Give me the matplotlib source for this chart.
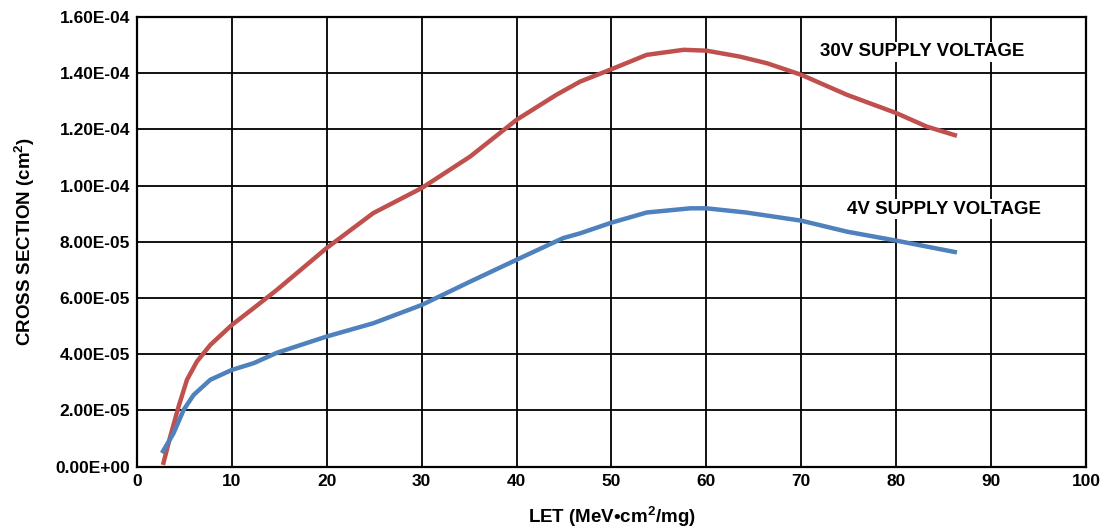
import numpy as np
import matplotlib.pyplot as plt
from matplotlib.ticker import FuncFormatter, MultipleLocator

plt.rcParams['font.family'] = ['Liberation Sans', 'DejaVu Sans']
plt.rcParams['font.weight'] = 'bold'
plt.rcParams['mathtext.fontset'] = 'custom'
plt.rcParams['mathtext.rm'] = 'Liberation Sans'
plt.rcParams['mathtext.bf'] = 'Liberation Sans:bold'

# 30V supply voltage curve (LET, cross section in 1e-5 cm2)
let_30v = [2.74, 3.51, 4.39, 5.27, 6.32, 7.73, 10.0, 12.3, 14.75, 20.0, 24.9, 30.0,
           35.1, 40.0, 44.2, 46.7, 50.0, 53.7, 57.6, 60.0, 63.5, 66.4, 70.0, 74.8,
           80.0, 83.2, 86.4]
xs_30v = [0.06, 1.07, 2.14, 3.09, 3.74, 4.33, 5.04, 5.64, 6.29, 7.78, 9.02, 9.91,
          11.03, 12.34, 13.23, 13.7, 14.14, 14.65, 14.83, 14.8, 14.59, 14.35, 13.94,
          13.23, 12.58, 12.1, 11.77]

# 4V supply voltage curve
let_4v = [2.63, 3.86, 4.92, 5.97, 7.73, 10.0, 12.3, 14.75, 20.0, 24.9, 30.0, 35.1,
          40.0, 44.9, 46.7, 50.0, 53.7, 58.3, 60.0, 64.2, 70.0, 74.8, 80.0, 86.4]
xs_4v = [0.48, 1.19, 2.02, 2.55, 3.09, 3.44, 3.68, 4.05, 4.63, 5.10, 5.75, 6.58,
         7.36, 8.13, 8.3, 8.68, 9.04, 9.19, 9.19, 9.04, 8.75, 8.36, 8.04, 7.62]

xs_30v = np.array(xs_30v) * 1e-5
xs_4v = np.array(xs_4v) * 1e-5

fig = plt.figure(figsize=(11.01, 5.29), dpi=100)
ax = fig.add_axes([0.1244, 0.118, 0.862, 0.850])

ax.plot(let_30v, xs_30v, color='#C0504D', lw=3.2, solid_joinstyle='round',
        solid_capstyle='butt', zorder=3)
ax.plot(let_4v, xs_4v, color='#4F81BD', lw=3.2, solid_joinstyle='round',
        solid_capstyle='butt', zorder=3)

ax.set_xlim(0, 100)
ax.set_ylim(0, 1.6e-4)
ax.xaxis.set_major_locator(MultipleLocator(10))
ax.yaxis.set_major_locator(MultipleLocator(2e-5))
ax.yaxis.set_major_formatter(FuncFormatter(lambda v, p: f'{v:.2E}'))
ax.grid(True, color='black', lw=1.3)
ax.set_axisbelow(True)
for s in ax.spines.values():
    s.set_linewidth(1.6)
ax.tick_params(length=0, labelsize=12.5, pad=5)
for lab in ax.get_xticklabels() + ax.get_yticklabels():
    lab.set_fontweight('bold')

ax.set_xlabel(r'LET (MeV•cm$^{\mathbf{2}}$/mg)', fontsize=13.5, fontweight='bold', labelpad=11)
ax.set_ylabel(r'CROSS SECTION (cm$^{\mathbf{2}}$)', fontsize=13.5, fontweight='bold', labelpad=13)

box = dict(facecolor='white', edgecolor='none', pad=1)
ax.text(72.0, 14.76e-5, '30V SUPPLY VOLTAGE', fontsize=13.5, fontweight='bold',
        va='center', ha='left', bbox=box, zorder=4)
ax.text(74.8, 9.16e-5, '4V SUPPLY VOLTAGE', fontsize=13.5, fontweight='bold',
        va='center', ha='left', bbox=box, zorder=4)

fig.savefig('out.png', dpi=100)
